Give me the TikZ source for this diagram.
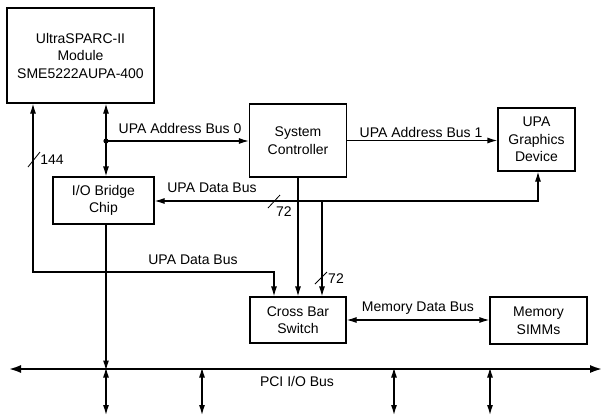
\documentclass[tikz,border=0pt]{standalone}
\usepackage{fontspec}
\setmainfont{Liberation Sans}
\usetikzlibrary{arrows.meta}

\begin{document}
\begin{tikzpicture}[
  x=1pt, y=-1pt,
  font=\fontsize{14}{17.5}\selectfont,
  box/.style={draw, line width=1.2pt, align=center, inner sep=0pt},
  arr/.style={-{Latex[length=10pt,width=6pt]}, line width=1.2pt},
  darr/.style={{Latex[length=10pt,width=6pt]}-{Latex[length=10pt,width=6pt]}, line width=1.2pt},
  bus/.style={{Latex[length=13pt,width=8pt]}-{Latex[length=13pt,width=8pt]}, line width=2.6pt},
  lbl/.style={inner sep=0pt}
]
\useasboundingbox (0,0) rectangle (603,416);

\node[box, minimum width=147pt, minimum height=95pt] (module) at (80.5,55.5) {UltraSPARC-II\\Module\\SME5222AUPA-400};
\node[box, minimum width=101pt, minimum height=47pt] (bridge) at (103.5,200.5) {I/O Bridge\\Chip};
\node[box, minimum width=97pt, minimum height=73pt] (sysctl) at (298,140.5) {System\\Controller};
\node[box, minimum width=77pt, minimum height=63pt] (graphics) at (536.5,139.5) {UPA\\Graphics\\Device};
\node[box, minimum width=96pt, minimum height=46pt] (xbar) at (298,320) {Cross Bar\\Switch};
\node[box, minimum width=97pt, minimum height=47pt] (simms) at (538.5,320.5) {Memory\\SIMMs};

\coordinate (tap) at (106,141);
\coordinate (dl) at (33,272);
\coordinate (dr) at (274,272);
\coordinate (dbr) at (538,201);
\coordinate (dbt) at (322,201);
\coordinate (pcil) at (8,369);
\coordinate (pcir) at (603,369);

% UPA address buses
\draw[darr] (module.south -| tap) -- (bridge.north -| tap);
\fill (tap) circle (2.6pt);
\draw[arr] (tap) -- (tap -| sysctl.west);
\draw[arr] (sysctl.east) -- (sysctl.east -| graphics.west);
\node[lbl] (ab0) at (180,128) {UPA Address Bus 0};
\node[lbl] (ab1) at (421,132) {UPA Address Bus 1};

% UPA data buses
\draw[darr] (bridge.east |- dbr) -- (dbr) -- (graphics.south -| dbr);
\draw[arr] (dbt) -- (xbar.north -| dbt);
\draw[arr] (sysctl.south) -- (sysctl.south |- xbar.north);
\draw[darr] (module.south -| dl) -- (dl) -- (dr) -- (xbar.north -| dr);
\node[lbl] (db0) at (212,188) {UPA Data Bus};
\node[lbl] (db1) at (193,260) {UPA Data Bus};

% bus widths
\draw[line width=0.8pt] (28,167) -- (40,152);
\node[lbl] (w144) at (52,160) {144};
\draw[line width=0.8pt] (268,208) -- (280,195);
\node[lbl] (w72a) at (284,212) {72};
\draw[line width=0.8pt] (315,284) -- (327,272);
\node[lbl] (w72b) at (336,279) {72};

% memory
\draw[darr] (xbar.east) -- (xbar.east -| simms.west);
\node[lbl] (mdb) at (418,308) {Memory Data Bus};

% PCI bus
\draw[bus] (pcil) -- (pcir);
\node[lbl] (pci) at (297,381) {PCI I/O Bus};
\draw[arr] (bridge.south -| tap) -- ([yshift=-1.5pt]tap |- pcil);
\foreach \x [count=\i] in {106,202,394,490} {
  \coordinate (slot\i) at (\x,415);
  \draw[darr] ([yshift=1.5pt]slot\i |- pcil) -- (slot\i);
}
\end{tikzpicture}
\end{document}
